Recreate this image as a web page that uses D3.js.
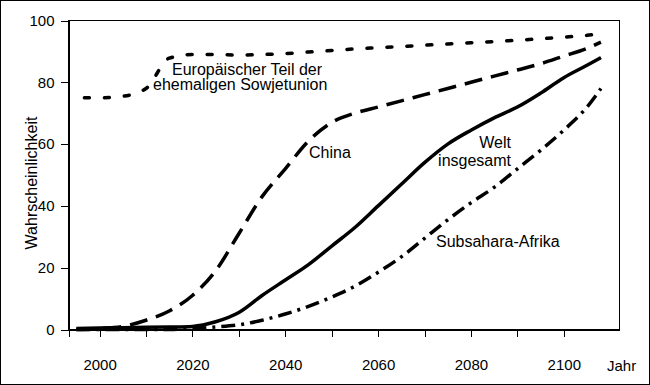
<!DOCTYPE html>
<html>
<head>
<meta charset="utf-8">
<script src="https://cdn.jsdelivr.net/npm/d3@7"></script>
<style>
  body { margin: 0; background: #fff; }
  svg { display: block; font-family: "Liberation Sans", Arial, sans-serif; }
</style>
</head>
<body>
<svg width="650" height="385"></svg>
<script>
// years of the model run (5-year steps, last point at the chart's end)
var years = [1995, 2000, 2005, 2010, 2015, 2020, 2025, 2030, 2035, 2040, 2045, 2050,
             2055, 2060, 2065, 2070, 2075, 2080, 2085, 2090, 2095, 2100, 2105, 2108];

// Wahrscheinlichkeit (%) per region
var europa    = [75, 75, 75.5, 78, 87.8, 89, 89, 88.8, 89, 89.3, 89.8, 90.3,
                 90.8, 91.2, 91.6, 92, 92.4, 92.8, 93.2, 93.6, 94.1, 94.6, 95.2, 95.7];
var china     = [0, 0.3, 1, 3, 6, 11, 19, 31, 43, 52, 61, 67,
                 70, 72, 74, 76, 78, 80, 82, 84, 86, 88.5, 91, 93];
var welt      = [0.3, 0.5, 0.6, 0.7, 0.8, 1, 2.5, 5.5, 11, 16, 21, 27,
                 33, 40, 47, 54, 60, 64.5, 68.5, 72, 76.5, 81.5, 85.5, 88];
var subsahara = [0, 0, 0, 0, 0, 0.3, 0.8, 1.5, 3, 5, 7.5, 10.5,
                 14, 18.5, 23.5, 29.5, 35.5, 41, 46, 52, 58, 64.5, 72, 78];

var yTicks = [0, 20, 40, 60, 80, 100];
var xTicks = [2000, 2010, 2020, 2030, 2040, 2050, 2060, 2070, 2080, 2090, 2100];
var xLabels = [2000, 2020, 2040, 2060, 2080, 2100];

var svg = d3.select("svg"),
    width = +svg.attr("width"),
    height = +svg.attr("height");

var plotL = 68.5, plotR = 619.5, plotT = 20.5, plotB = 329.5;

var x = d3.scaleLinear().domain([1993.3, 2112]).range([plotL, plotR]);
var y = d3.scaleLinear().domain([0, 100]).range([plotB, plotT]);

// outer frame
svg.append("rect")
    .attr("x", 0.5).attr("y", 0.5)
    .attr("width", width - 1).attr("height", height - 1)
    .attr("fill", "#fff").attr("stroke", "#000");

// plot box
svg.append("rect")
    .attr("x", plotL).attr("y", plotT)
    .attr("width", plotR - plotL).attr("height", plotB - plotT)
    .attr("fill", "none").attr("stroke", "#000")
    .attr("shape-rendering", "crispEdges");

// y axis
var yAxis = svg.append("g")
    .attr("transform", "translate(" + plotL + ",0)")
    .call(d3.axisLeft(y).tickValues(yTicks).tickSize(8).tickPadding(6).tickSizeOuter(0));

// x axis (extra tick at the left edge)
var xAxis = svg.append("g")
    .attr("transform", "translate(0," + plotB + ")")
    .call(d3.axisBottom(x)
        .tickValues([x.domain()[0]].concat(xTicks))
        .tickSize(7).tickPadding(23).tickSizeOuter(0)
        .tickFormat(function(d) { return xLabels.indexOf(d) >= 0 ? d : ""; }));

[xAxis, yAxis].forEach(function(a) {
    a.attr("shape-rendering", "crispEdges");
    a.selectAll("path, line").attr("stroke", "#000");
    a.selectAll("text")
        .attr("fill", "#000")
        .style("font-family", "'Liberation Sans', Arial, sans-serif")
        .style("font-size", "15px");
});

svg.append("text")
    .attr("x", 607).attr("y", 371)
    .attr("font-size", 15)
    .text("Jahr");

svg.append("text")
    .attr("transform", "translate(31,183) rotate(-90)")
    .attr("text-anchor", "middle")
    .attr("dominant-baseline", "central")
    .attr("font-size", 16)
    .text("Wahrscheinlichkeit");

// lines
var series = [
    {values: europa,    dash: "5,15",      cap: "round", offset: -8},
    {values: china,     dash: "18,9",      cap: "butt",  offset: 0},
    {values: welt,      dash: null,        cap: "butt",  offset: 0},
    {values: subsahara, dash: "14,6,3,6",  cap: "butt",  offset: 0}
];

var line = d3.line()
    .x(function(d) { return x(d[0]); })
    .y(function(d) { return y(d[1]); })
    .curve(d3.curveMonotoneX);

svg.append("g").selectAll("path")
    .data(series)
    .enter().append("path")
    .attr("d", function(s) { return line(years.map(function(yr, i) { return [yr, s.values[i]]; })); })
    .attr("fill", "none")
    .attr("stroke", "#000")
    .attr("stroke-width", 3.5)
    .attr("stroke-linecap", function(s) { return s.cap; })
    .attr("stroke-dasharray", function(s) { return s.dash; })
    .attr("stroke-dashoffset", function(s) { return s.offset; });

// annotations
var notes = [
    {text: "Europäischer Teil der", x: 172, y: 75, anchor: "start"},
    {text: "ehemaligen Sowjetunion", x: 153, y: 90, anchor: "start"},
    {text: "China", x: 309, y: 158, anchor: "start"},
    {text: "Welt", x: 511, y: 148, anchor: "end"},
    {text: "insgesamt", x: 511, y: 166, anchor: "end"},
    {text: "Subsahara-Afrika", x: 436, y: 247, anchor: "start"}
];

svg.append("g").selectAll("text")
    .data(notes)
    .enter().append("text")
    .attr("x", function(d) { return d.x; })
    .attr("y", function(d) { return d.y; })
    .attr("text-anchor", function(d) { return d.anchor; })
    .attr("font-size", 16)
    .attr("fill", "#000")
    .text(function(d) { return d.text; });
</script>
</body>
</html>
